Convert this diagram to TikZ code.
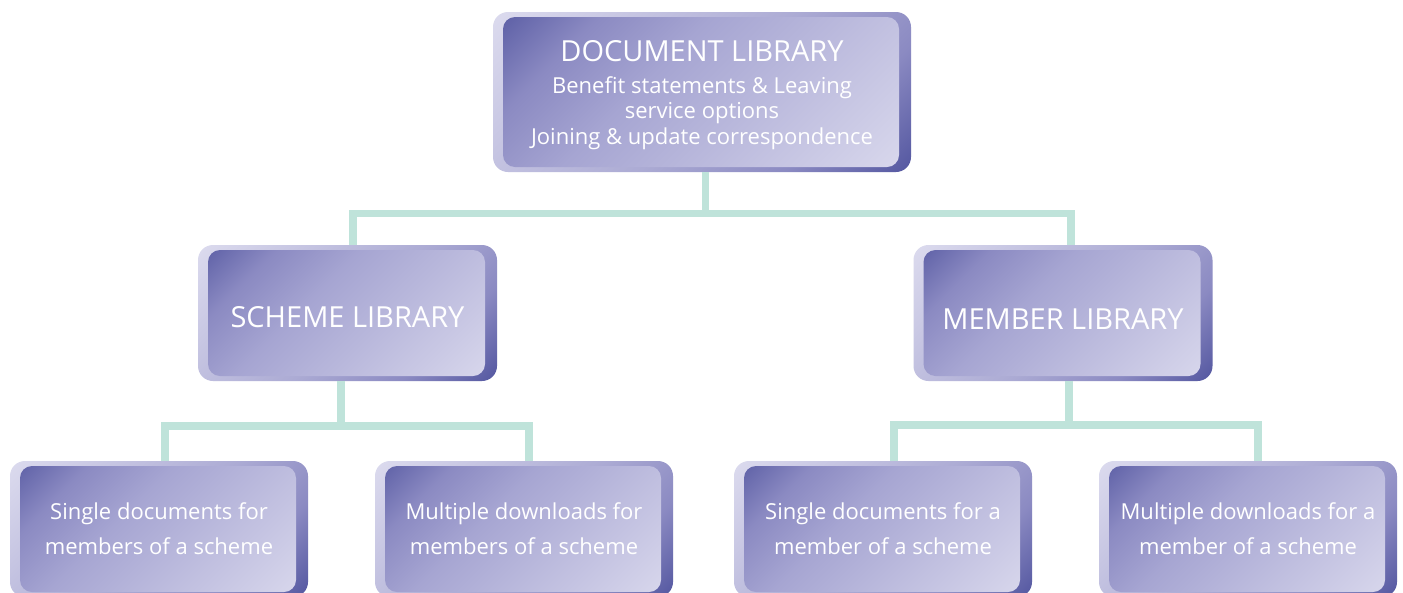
\documentclass[tikz,border=0pt]{standalone}
\usepackage{fontspec}
\setmainfont{Open Sans}
\definecolor{cdark}{HTML}{5558A1}
\definecolor{cdark2}{HTML}{8B8AC2}
\definecolor{cmid}{HTML}{A6A5D2}
\definecolor{clight}{HTML}{DAD9ED}
\definecolor{fmid}{HTML}{ACABD4}
\definecolor{conncol}{HTML}{BFE3DA}
\pgfdeclareverticalshading{innershade}{100bp}{color(0bp)=(clight); color(15bp)=(clight); color(58bp)=(cmid); color(72bp)=(cdark2); color(86bp)=(cdark); color(100bp)=(cdark)}
\pgfdeclareverticalshading{frameshade}{100bp}{color(0bp)=(cdark); color(15bp)=(cdark); color(30bp)=(cdark2); color(48bp)=(fmid); color(84bp)=(clight); color(100bp)=(clight)}
\tikzset{
  libbox/.style 2 args={rounded corners=15pt, inner sep=0pt, minimum width=#1, minimum height=#2,
    shading=frameshade, shading angle=45,
    text=white, align=center,
    path picture={\shade[rounded corners=12pt, shading=innershade, shading angle=45]
      ([shift={(10,5)}]path picture bounding box.north west) rectangle
      ([shift={(-12,-5)}]path picture bounding box.south east);}},
  conn/.style={draw=conncol, line width=7.5pt},
  bigfont/.style={font=\fontsize{29}{34}\selectfont},
  subfont/.style={font=\fontsize{22}{25.5}\selectfont},
  leaffont/.style={font=\fontsize{22}{35}\selectfont},
}
\begin{document}
\begin{tikzpicture}[x=1pt,y=-1pt]
\useasboundingbox (0,0) rectangle (1403,592);
\fill[white] (0,0) rectangle (1403,592);
\coordinate (j0) at (0,213.5);
\coordinate (j1) at (0,426);
\coordinate (j2) at (0,425);
% boxes
\node[libbox={418pt}{160pt}, subfont] (top) at (702,92)
  {\rule{0pt}{27pt}{\fontsize{29}{34}\selectfont DOCUMENT LIBRARY}\\[6pt]
   Benefit statements \& Leaving\\service options\\Joining \& update correspondence};
\node[libbox={299pt}{136pt}, bigfont] (scheme) at (347.5,313) {\rule{0pt}{30pt}SCHEME LIBRARY};
\node[libbox={299pt}{136pt}, bigfont] (member) at (1063,313) {\rule{0pt}{33pt}MEMBER LIBRARY};
\node[libbox={298pt}{136pt}, leaffont] (b1) at (159,529) {Single documents for\\members of a scheme};
\node[libbox={298pt}{136pt}, leaffont] (b2) at (524,529) {Multiple downloads for\\members of a scheme};
\node[libbox={298pt}{136pt}, leaffont] (b3) at (883,529) {Single documents for a\\member of a scheme};
\node[libbox={298pt}{136pt}, leaffont] (b4) at (1248,529) {Multiple downloads for a\\member of a scheme};
% connectors
\draw[conn] ([xshift=3.5pt]top.south) -- ([xshift=3.5pt]top.south |- j0) -| ([xshift=5.5pt]scheme.north);
\draw[conn] ([xshift=3.5pt]top.south |- j0) -| ([xshift=8pt]member.north);
\draw[conn] ([xshift=-6.5pt]scheme.south) -- ([xshift=-6.5pt]scheme.south |- j1) -| ([xshift=6pt]b1.north);
\draw[conn] ([xshift=-6.5pt]scheme.south |- j1) -| ([xshift=5pt]b2.north);
\draw[conn] ([xshift=6pt]member.south) -- ([xshift=6pt]member.south |- j2) -| ([xshift=11pt]b3.north);
\draw[conn] ([xshift=6pt]member.south |- j2) -| ([xshift=10pt]b4.north);
\end{tikzpicture}
\end{document}
